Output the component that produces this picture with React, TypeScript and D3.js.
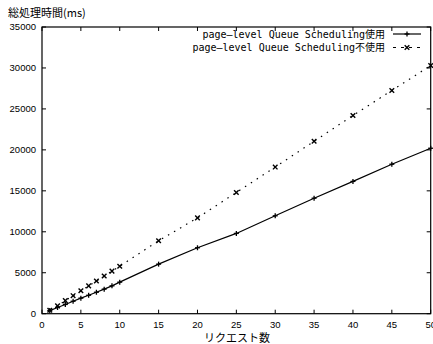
import React from "react";
import * as d3 from "d3";

const requests = [1, 2, 3, 4, 5, 6, 7, 8, 9, 10, 15, 20, 25, 30, 35, 40, 45, 50];
const withScheduling = [380, 760, 1130, 1520, 1900, 2250, 2620, 3000, 3400, 3850, 6050, 8050, 9800, 11950, 14100, 16150, 18250, 20200];
const withoutScheduling = [420, 950, 1600, 2200, 2800, 3400, 4000, 4600, 5200, 5800, 8900, 11700, 14800, 17900, 21050, 24200, 27250, 30300];
const xTicks = [0, 5, 10, 15, 20, 25, 30, 35, 40, 45, 50];
const yTicks = [0, 5000, 10000, 15000, 20000, 25000, 30000, 35000];
const seriesNames = ["page\u2013level Queue Scheduling", "page\u2013level Queue Scheduling"];
const seriesSuffix = ["使用", "不使用"];

const W = 433, H = 344;
const L = 42, R = 430.7, T = 27, B = 313.7;

export default function App() {
  const x = d3.scaleLinear().domain([0, 50]).range([L, R]);
  const y = d3.scaleLinear().domain([0, 35000]).range([B, T]);
  const line = d3.line<[number, number]>().x(d => x(d[0])).y(d => y(d[1]));
  const s1 = requests.map((r, i) => [r, withScheduling[i]] as [number, number]);
  const s2 = requests.map((r, i) => [r, withoutScheduling[i]] as [number, number]);
  const tl = 4;
  const plus = (cx: number, cy: number, k: string) => (
    <g key={k} stroke="#000" strokeWidth={1.3}>
      <line x1={cx - 2.5} x2={cx + 2.5} y1={cy} y2={cy} />
      <line x1={cx} x2={cx} y1={cy - 2.5} y2={cy + 2.5} />
    </g>
  );
  const cross = (cx: number, cy: number, k: string) => (
    <g key={k} stroke="#000" strokeWidth={1.4}>
      <line x1={cx - 2.3} x2={cx + 2.3} y1={cy - 2.3} y2={cy + 2.3} />
      <line x1={cx - 2.3} x2={cx + 2.3} y1={cy + 2.3} y2={cy - 2.3} />
    </g>
  );
  const tickFont = "Liberation Sans, Arial, sans-serif";
  const jpFont = "Noto Sans CJK JP, sans-serif";
  const monoFont = "DejaVu Sans Mono, monospace";
  const legendY = [34, 47.5];
  return (
    <svg width={W} height={H} style={{ position: "absolute", left: 0, top: 0, background: "#fff" }}>
      <rect x={0} y={0} width={W} height={H} fill="#fff" />
      <text x={8} y={17} fontFamily={jpFont} fontSize={11} fill="#000">総処理時間(ms)</text>
      {yTicks.map(t => (
        <g key={"y" + t}>
          <line x1={L} x2={L + tl} y1={y(t)} y2={y(t)} stroke="#000" />
          <line x1={R} x2={R - tl} y1={y(t)} y2={y(t)} stroke="#000" />
          <text x={36} y={y(t)} dy="0.35em" textAnchor="end" fontFamily={tickFont} fontSize={9.5}>{t}</text>
        </g>
      ))}
      {xTicks.map(t => (
        <g key={"x" + t}>
          <line x1={x(t)} x2={x(t)} y1={B} y2={B - tl} stroke="#000" />
          <line x1={x(t)} x2={x(t)} y1={T} y2={T + tl} stroke="#000" />
          <text x={x(t)} y={328} textAnchor="middle" fontFamily={tickFont} fontSize={9.5}>{t}</text>
        </g>
      ))}
      <rect x={L} y={T} width={R - L} height={B - T} fill="none" stroke="#000" strokeWidth={1.2} />
      <text x={237} y={342} textAnchor="middle" fontFamily={jpFont} fontSize={11}>リクエスト数</text>
      <path d={line(s1) || ""} fill="none" stroke="#000" strokeWidth={1.2} />
      <path d={line(s2) || ""} fill="none" stroke="#000" strokeWidth={1.2} strokeDasharray="1.5,5.5" />
      {s1.map((d, i) => plus(x(d[0]), y(d[1]), "p" + i))}
      {s2.map((d, i) => cross(x(d[0]), y(d[1]), "c" + i))}
      {seriesNames.map((n, i) => (
        <text key={"l" + i} x={385} y={legendY[i]} dy="0.35em" textAnchor="end" fontFamily={monoFont} fontSize={10}>
          {n}<tspan fontFamily={jpFont} fontSize={10}>{seriesSuffix[i]}</tspan>
        </text>
      ))}
      <line x1={393} x2={421} y1={legendY[0]} y2={legendY[0]} stroke="#000" strokeWidth={1.2} />
      {plus(407, legendY[0], "lp")}
      <line x1={393} x2={421} y1={legendY[1]} y2={legendY[1]} stroke="#000" strokeWidth={1.2} strokeDasharray="3,5" />
      {cross(407, legendY[1], "lc")}
    </svg>
  );
}
